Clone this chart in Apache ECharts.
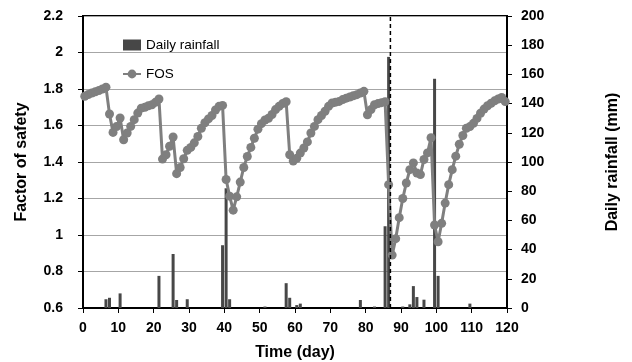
<!DOCTYPE html>
<html>
<head>
<meta charset="utf-8">
<script src="https://cdn.jsdelivr.net/npm/echarts@6/dist/echarts.min.js"></script>
<style>
html,body{margin:0;padding:0;background:#fff;}
#chart{width:632px;height:362px;}
</style>
</head>
<body>
<div id="chart"></div>
<script>
// Day numbers (categories) 1..120
const dayCount = 120;
// Factor of safety, one value per day (day 1 .. day 120)
const fosValues = [
  1.76, 1.77, 1.778, 1.785, 1.792, 1.80, 1.81, 1.663, 1.562, 1.594,
  1.641, 1.522, 1.559, 1.595, 1.632, 1.668, 1.695, 1.70, 1.708, 1.714,
  1.727, 1.745, 1.416, 1.44, 1.486, 1.537, 1.336, 1.37, 1.418, 1.464,
  1.48, 1.505, 1.54, 1.585, 1.615, 1.636, 1.655, 1.685, 1.705, 1.71,
  1.304, 1.213, 1.136, 1.209, 1.29, 1.37, 1.43, 1.48, 1.53, 1.58,
  1.61, 1.63, 1.64, 1.66, 1.687, 1.705, 1.72, 1.73, 1.44, 1.405,
  1.42, 1.449, 1.477, 1.51, 1.559, 1.595, 1.632, 1.655, 1.678, 1.705,
  1.723, 1.728, 1.732, 1.742, 1.75, 1.756, 1.763, 1.769, 1.778, 1.787,
  1.659, 1.687, 1.714, 1.72, 1.725, 1.73, 1.276, 0.89, 0.98, 1.095,
  1.20, 1.285, 1.358, 1.395, 1.34, 1.331, 1.414, 1.45, 1.533, 1.055,
  0.963, 1.064, 1.175, 1.276, 1.358, 1.432, 1.497, 1.545, 1.585, 1.594,
  1.612, 1.639, 1.667, 1.69, 1.708, 1.722, 1.735, 1.745, 1.754, 1.731
];
// Daily rainfall (mm) on the rainy days
const rainDays = [7, 8, 11, 22, 26, 27, 30, 40, 41, 42, 52, 58, 59, 61, 62, 79, 83, 86, 87, 91, 93, 94, 95, 97, 100, 101, 110];
const rainMM   = [6, 7, 10, 22, 37, 5.5, 6, 43, 82, 6, 1, 17, 7, 2, 3, 5.5, 1, 56, 172, 1, 2.5, 15, 7.5, 5.7, 157, 22, 3];
// Marked day (dashed line)
const markerDay = 87;
// Axis ranges
const timeRange = [0, 120, 10];
const fosRange = [0.6, 2.2, 0.2];
const rainRange = [0, 200, 20];

const categories = [];
for (let d = 1; d <= dayCount; d++) categories.push(String(d));
const rainSeries = categories.map(() => 0);
rainDays.forEach((d, i) => { rainSeries[d - 1] = rainMM[i]; });

const font = '"Liberation Sans", Arial, sans-serif';
const chart = echarts.init(document.getElementById('chart'), null, {renderer: 'canvas'});
chart.setOption({
  animation: false,
  backgroundColor: '#fff',
  grid: {left: 83, right: 125, top: 16, bottom: 54, outerBoundsMode: 'none', containLabel: false,
    show: true, borderColor: '#000', borderWidth: 2, backgroundColor: 'transparent'},
  legend: {
    orient: 'vertical', left: 117, top: 33, itemGap: 15, itemWidth: 18, itemHeight: 11,
    textStyle: {fontFamily: font, fontSize: 13.5, color: '#000'},
    data: [
      {name: 'Daily rainfall', icon: 'rect', itemStyle: {color: '#474747'}},
      {name: 'FOS'}
    ]
  },
  xAxis: [
    {
      type: 'value', min: timeRange[0], max: timeRange[1], interval: timeRange[2],
      name: 'Time (day)', nameLocation: 'middle', nameGap: 37,
      nameTextStyle: {fontFamily: font, fontSize: 16, fontWeight: 'bold', color: '#000'},
      axisLine: {show: true, lineStyle: {color: '#000', width: 2}},
      axisTick: {show: true, inside: false, length: 5, lineStyle: {color: '#000'}},
      axisLabel: {fontFamily: font, fontSize: 14, fontWeight: 'bold', color: '#000', margin: 13},
      splitLine: {show: false}
    },
    {
      type: 'category', data: categories, boundaryGap: true, show: false
    }
  ],
  yAxis: [
    {
      type: 'value', min: fosRange[0], max: fosRange[1], interval: fosRange[2],
      name: 'Factor of safety', nameLocation: 'middle', nameGap: 53, nameRotate: 90,
      nameTextStyle: {fontFamily: font, fontSize: 16, fontWeight: 'bold', color: '#000'},
      axisLine: {show: true, lineStyle: {color: '#000', width: 2}},
      axisTick: {show: true, inside: false, length: 5, lineStyle: {color: '#000'}},
      axisLabel: {fontFamily: font, fontSize: 14, fontWeight: 'bold', color: '#000', margin: 20,
        formatter: v => String(Math.round(v * 10) / 10)},
      splitLine: {show: true, lineStyle: {color: '#a6a6a6', width: 1}}
    },
    {
      type: 'value', min: rainRange[0], max: rainRange[1], interval: rainRange[2],
      name: 'Daily rainfall (mm)', nameLocation: 'middle', nameGap: 98, nameRotate: 90,
      nameTextStyle: {fontFamily: font, fontSize: 16, fontWeight: 'bold', color: '#000'},
      axisLine: {show: true, lineStyle: {color: '#000', width: 2}},
      axisTick: {show: true, inside: false, length: 5, lineStyle: {color: '#000'}},
      axisLabel: {fontFamily: font, fontSize: 14, fontWeight: 'bold', color: '#000', margin: 14},
      splitLine: {show: false}
    }
  ],
  series: [
    {
      name: 'Daily rainfall', type: 'bar', xAxisIndex: 1, yAxisIndex: 1,
      data: rainSeries, barWidth: 3, itemStyle: {color: '#474747'}, z: 2
    },
    {
      name: 'FOS', type: 'line', xAxisIndex: 1, yAxisIndex: 0,
      data: fosValues, symbol: 'circle', symbolSize: 9, showAllSymbol: true,
      lineStyle: {color: '#7f7f7f', width: 3}, itemStyle: {color: '#7f7f7f'}, z: 3
    },
    {
      name: 'marker', type: 'line', xAxisIndex: 0, yAxisIndex: 0,
      data: [[markerDay, fosRange[0]], [markerDay, fosRange[1]]],
      symbol: 'none', lineStyle: {color: '#000', width: 1.5, type: [4, 3]}, z: 4, silent: true
    }
  ]
});
</script>
</body>
</html>
